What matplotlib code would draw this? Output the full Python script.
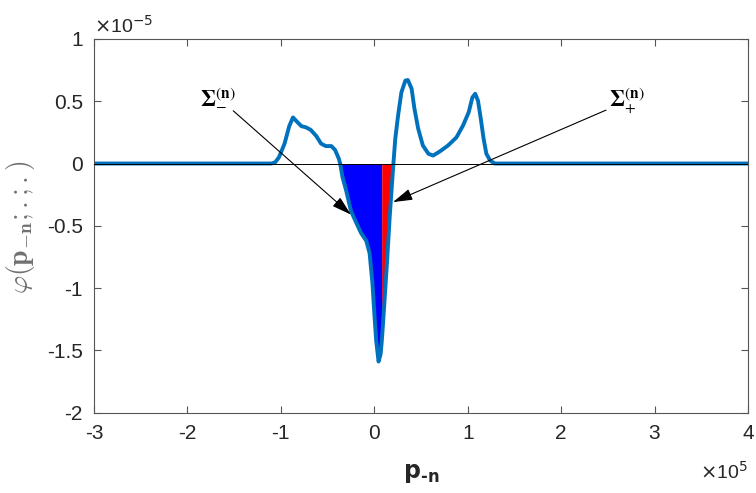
import numpy as np
import matplotlib.pyplot as plt
import matplotlib.ticker as ticker

plt.rcParams['font.family'] = ['Liberation Sans', 'DejaVu Sans']
plt.rcParams['axes.unicode_minus'] = False

#--------- data (x in 1e5, y in 1e-5) ---------
X_SCALE = 1e5
Y_SCALE = 1e-5

p_left = [-3.0, -1.10, -1.06, -1.02, -0.96, -0.91, -0.87, -0.82, -0.78, -0.73,
          -0.68, -0.62, -0.57, -0.52, -0.46, -0.42, -0.38]
phi_left = [0.0, 0.0, 0.01, 0.05, 0.16, 0.30, 0.37, 0.33, 0.30, 0.29,
            0.27, 0.22, 0.16, 0.14, 0.14, 0.11, 0.04]

p_neg = [-0.365, -0.34, -0.30, -0.25, -0.19, -0.14, -0.086, -0.05, -0.02, 0.003,
         0.02, 0.046, 0.068, 0.08, 0.086, 0.11, 0.14, 0.165, 0.19, 0.205]
phi_neg = [0.0, -0.11, -0.22, -0.38, -0.48, -0.56, -0.62, -0.72, -0.96, -1.23,
           -1.42, -1.59, -1.53, -1.43, -1.37, -1.10, -0.75, -0.43, -0.16, 0.0]

p_right = [0.225, 0.255, 0.29, 0.333, 0.36, 0.40, 0.43, 0.47, 0.52, 0.58,
           0.63, 0.70, 0.79, 0.88, 0.95, 1.01, 1.05, 1.08, 1.11, 1.14,
           1.17, 1.20, 1.24, 1.29, 4.0]
phi_right = [0.20, 0.385, 0.57, 0.666, 0.67, 0.60, 0.44, 0.28, 0.145, 0.078,
             0.064, 0.096, 0.145, 0.21, 0.305, 0.41, 0.53, 0.56, 0.505, 0.36,
             0.20, 0.078, 0.024, 0.0, 0.0]

P_SPLIT = 0.08  # boundary between Sigma_- and Sigma_+

p = np.array(p_left + p_neg + p_right) * X_SCALE
phi = np.array(phi_left + phi_neg + phi_right) * Y_SCALE
pn = np.array(p_neg) * X_SCALE
phin = np.array(phi_neg) * Y_SCALE

#--------- plot ---------
fig = plt.figure(figsize=(7.56, 4.93), dpi=100)
ax = fig.add_axes([0.1243, 0.163, 0.8651, 0.758])

ax.fill_between(pn, phin, 0, where=pn <= P_SPLIT * X_SCALE, color='#0000ff',
                lw=0, zorder=1, interpolate=True)
ax.fill_between(pn, phin, 0, where=pn >= P_SPLIT * X_SCALE, color='#ff0000',
                lw=0, zorder=1, interpolate=True)
ax.plot(p, phi, color='#0072bd', lw=2.8, zorder=2, solid_joinstyle='round')
ax.axhline(0, color='black', lw=0.7, zorder=3)

# annotations
arrow = dict(arrowstyle='-|>,head_length=0.75,head_width=0.22',
             color='black', lw=0.8, shrinkA=0, shrinkB=0)
ax.annotate(r'$\mathbf{\Sigma}_{-}^{(\mathbf{n})}$', xy=(-0.25e5, -0.41e-5),
            xytext=(-1.48e5, 0.53e-5), ha='right', va='center', fontsize=16,
            math_fontfamily='stix', zorder=4, arrowprops=arrow)
ax.annotate(r'$\mathbf{\Sigma}_{+}^{(\mathbf{n})}$', xy=(0.20e5, -0.31e-5),
            xytext=(2.51e5, 0.50e-5), ha='left', va='center', fontsize=16,
            math_fontfamily='stix', zorder=4, arrowprops=arrow)

ax.set_xlim(-3e5, 4e5)
ax.set_ylim(-2e-5, 1e-5)
ax.set_xticks(np.arange(-3, 5) * X_SCALE)
ax.set_yticks(np.arange(-2, 1.5, 0.5) * Y_SCALE)
ax.xaxis.set_major_formatter(ticker.FuncFormatter(lambda v, pos: '%g' % round(v / X_SCALE, 3)))
ax.yaxis.set_major_formatter(ticker.FuncFormatter(lambda v, pos: '%g' % round(v / Y_SCALE, 3)))

ax.tick_params(direction='in', length=5, width=0.8, colors='#555555',
               labelcolor='#262626', labelsize=15, top=True, right=True, pad=8)
for s in ax.spines.values():
    s.set_color('#555555')
    s.set_linewidth(0.8)

ax.text(0.0, 1.005, r'$\times$10$^{-5}$', transform=ax.transAxes, fontsize=14,
        color='#262626', ha='left', va='bottom', math_fontfamily='dejavusans')
ax.text(1.0, -0.128, r'$\times$10$^{5}$', transform=ax.transAxes, fontsize=14,
        color='#262626', ha='right', va='top', math_fontfamily='dejavusans')

ax.set_xlabel('$\\mathbf{p}_{\\mathbf{\u2010n}}$', fontsize=17, color='#262626',
              math_fontfamily='dejavusans', labelpad=14)
ax.set_ylabel(r'$\varphi(\mathbf{p}_{-\mathbf{n}};.;.)$', fontsize=20,
              color='#707070', math_fontfamily='cm')
ax.yaxis.set_label_coords(-0.087, 0.495)

fig.savefig('out.png', dpi=100)
